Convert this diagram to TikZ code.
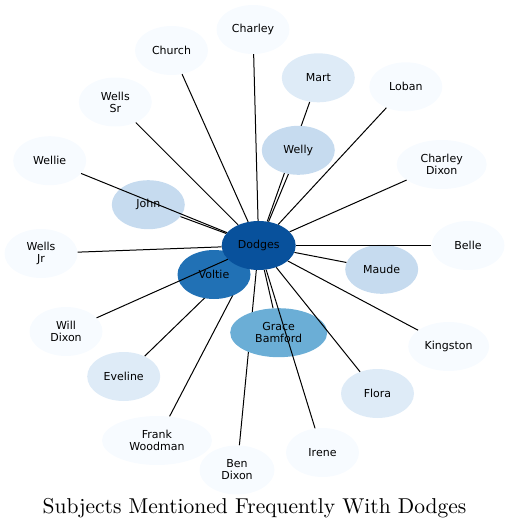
\documentclass[tikz,border=0pt]{standalone}
\usepackage{fontspec}
\usepackage{tikz}
\usetikzlibrary{shapes.geometric}
\newfontfamily\labelfont{DejaVu Sans}
\newfontfamily\titlefont{lmroman10-regular}[Extension=.otf]
\definecolor{hub}{RGB}{8,81,156}
\definecolor{tier3}{RGB}{33,113,181}
\definecolor{tier2}{RGB}{107,174,214}
\definecolor{tier1}{RGB}{198,219,239}
\definecolor{tier0}{RGB}{222,235,247}
\definecolor{leaf}{RGB}{247,251,255}
\pgfdeclarelayer{back}
\pgfsetlayers{back,main}

\begin{document}
\begin{tikzpicture}[
  x=1pt, y=-1pt,
  font=\labelfont\fontsize{11}{12}\selectfont,
  subject/.style={ellipse, fill=leaf, minimum width=73pt, minimum height=49pt, inner sep=0pt, align=center},
  link/.style={line width=1pt}
]
\useasboundingbox (0,0) rectangle (510,530);
% subjects around the hub
\node[subject] (charley) at (253,29.5) {Charley};
\node[subject] (church) at (171.5,50.5) {Church};
\node[subject, fill=tier0] (mart) at (318.3,77.8) {Mart};
\node[subject] (loban) at (405.8,86.8) {Loban};
\node[subject] (wellssr) at (115.3,102) {Wells\\Sr};
\node[subject, fill=tier1] (welly) at (298.3,150.3) {Welly};
\node[subject] (wellie) at (49.7,160.7) {Wellie};
\node[subject, minimum width=90pt] (charleydixon) at (441.7,164.5) {Charley\\Dixon};
\node[subject, fill=tier1] (john) at (148.3,204.7) {John};
\node[subject] (belle) at (468,245.5) {Belle};
\node[subject] (wellsjr) at (41,253.5) {Wells\\Jr};
\node[subject, fill=tier1] (maude) at (381.7,269.3) {Maude};
\node[subject] (willdixon) at (66,331.5) {Will\\Dixon};
\node[subject, fill=tier2, minimum width=97pt] (gracebamford) at (278.7,332.7) {Grace\\Bamford};
\node[subject, minimum width=81pt] (kingston) at (448.7,346.5) {Kingston};
\node[subject, fill=tier0] (eveline) at (123.7,376.5) {Eveline};
\node[subject, fill=tier0] (flora) at (377.5,393.5) {Flora};
\node[subject, minimum width=110pt] (frankwoodman) at (157,440.5) {Frank\\Woodman};
\node[subject] (irene) at (322.5,452.5) {Irene};
\node[subject, minimum width=75pt] (bendixon) at (237,470) {Ben\\Dixon};
\node[subject, fill=tier3] (voltie) at (214,274.5) {Voltie};
\node[subject, fill=hub, minimum width=74pt] (dodges) at (258.7,245.5) {Dodges};

% links that run under other subjects
\begin{pgfonlayer}{back}
\foreach \s in {voltie,mart,eveline,frankwoodman,bendixon}
  \draw[link] (dodges) -- (\s);
\end{pgfonlayer}
\foreach \s in {charley,church,loban,wellssr,welly,wellie,charleydixon,john,belle,wellsjr,maude,willdixon,gracebamford,kingston,flora,irene}
  \draw[link] (dodges) -- (\s);

\node[font=\titlefont\fontsize{21.5}{24}\selectfont] (title) at (254.5,508.5) {Subjects Mentioned Frequently With Dodges};
\end{tikzpicture}
\end{document}
